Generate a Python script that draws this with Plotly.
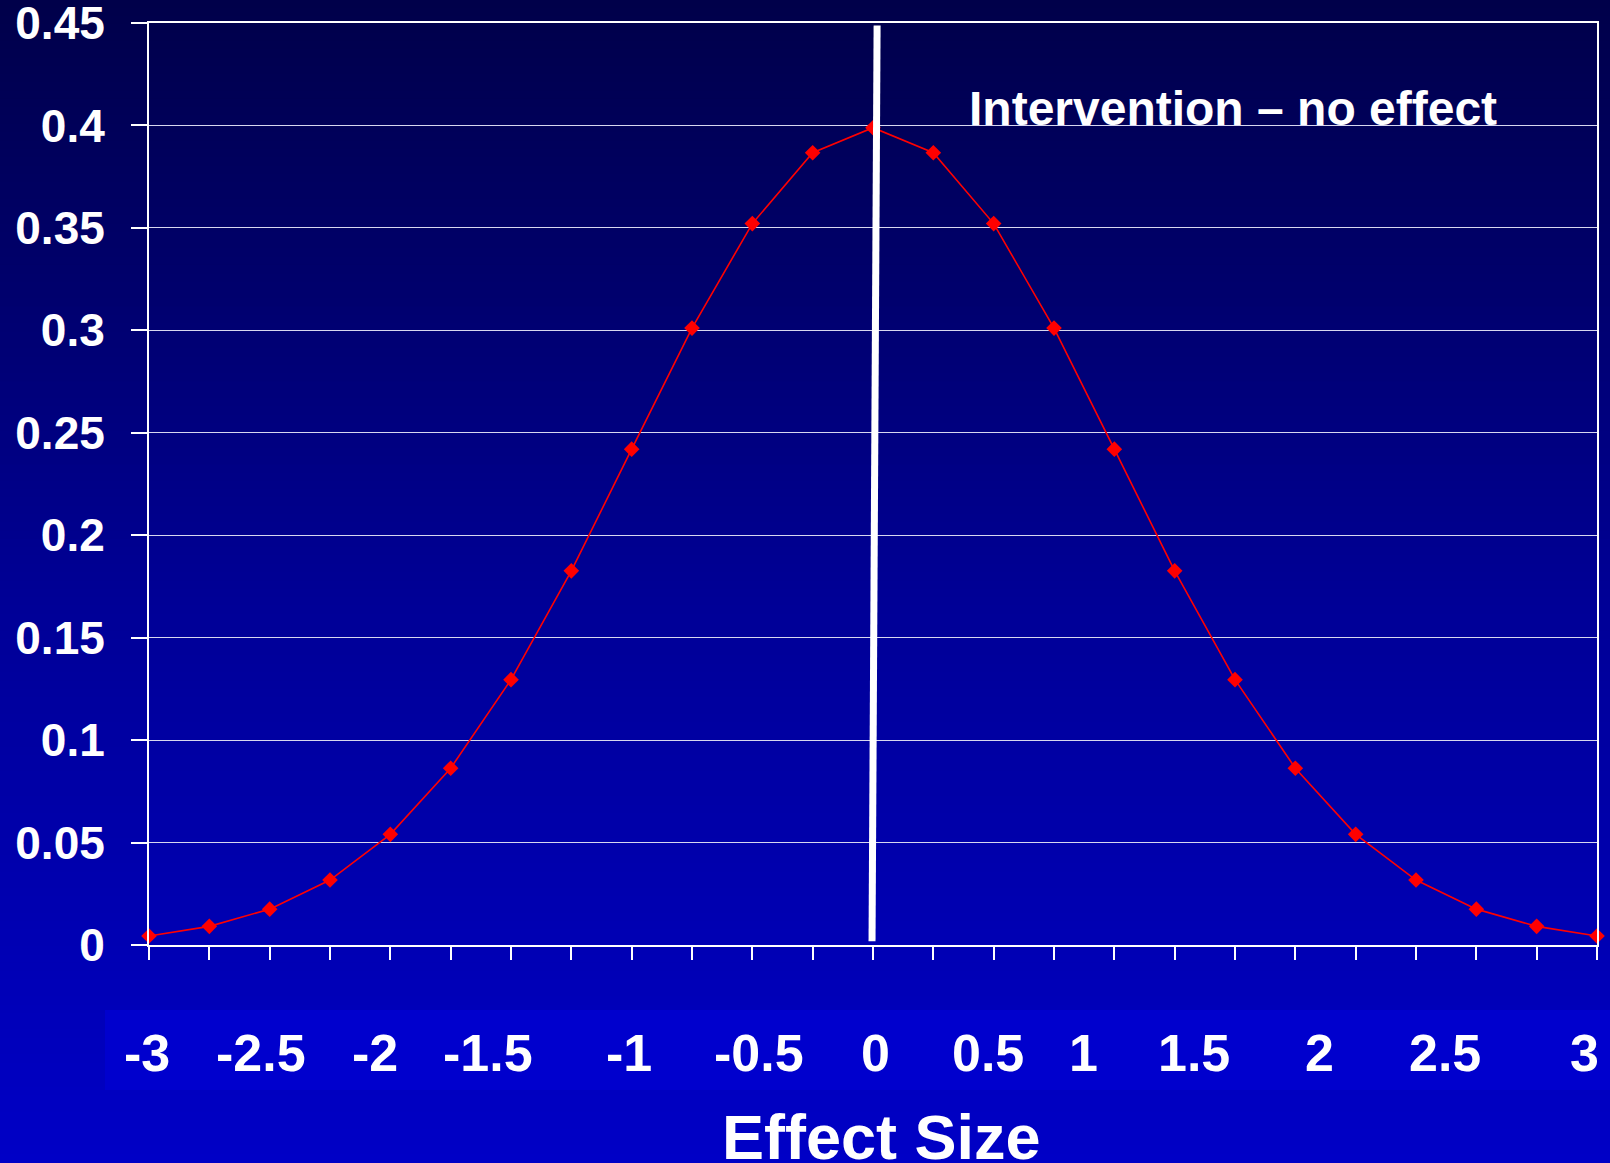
import plotly.graph_objects as go

# ---- data ----
effect_size = [-3, -2.75, -2.5, -2.25, -2, -1.75, -1.5, -1.25, -1, -0.75, -0.5, -0.25,
               0, 0.25, 0.5, 0.75, 1, 1.25, 1.5, 1.75, 2, 2.25, 2.5, 2.75, 3]
density = [0.0044, 0.0091, 0.0175, 0.0317, 0.0540, 0.0863, 0.1295, 0.1826, 0.2420,
           0.3011, 0.3521, 0.3867, 0.3989, 0.3867, 0.3521, 0.3011, 0.2420, 0.1826,
           0.1295, 0.0863, 0.0540, 0.0317, 0.0175, 0.0091, 0.0044]

y_tick_vals = [0, 0.05, 0.1, 0.15, 0.2, 0.25, 0.3, 0.35, 0.4, 0.45]
y_tick_text = ["0", "0.05", "0.1", "0.15", "0.2", "0.25", "0.3", "0.35", "0.4", "0.45"]

x_label_text = ["-3", "-2.5", "-2", "-1.5", "-1", "-0.5", "0", "0.5", "1", "1.5", "2", "2.5", "3"]
x_label_pos = [-3.01, -2.537, -2.064, -1.596, -1.009, -0.473, 0.012, 0.476, 0.872,
               1.331, 1.850, 2.370, 2.949]

no_effect_line_x = [0.017, -0.004]
no_effect_line_y = [0.4488, 0.0018]

# ---- layout geometry ----
W, H = 1610, 1163
L, R, T, B = 149, 13, 23, 218
PW, PH = W - L - R, H - T - B
X_MIN, X_MAX = -3, 3

FONT = "Liberation Sans, Arial, sans-serif"


def px_to_paper_y(py):
    return (H - B - py) / PH


def px_to_paper_x(px):
    return (px - L) / PW


def data_to_paper_x(v):
    return (v - X_MIN) / (X_MAX - X_MIN)


fig = go.Figure()

fig.add_trace(go.Scatter(
    x=effect_size, y=density, mode="lines+markers",
    line=dict(color="#FF0000", width=1.6),
    marker=dict(symbol="diamond", size=12, color="#FF0000"),
    cliponaxis=False, showlegend=False, hoverinfo="skip",
))

shapes = []
# vertical gradient background as stacked strips
stops = [(0, (0, 0, 74)), (300, (0, 0, 110)), (600, (0, 0, 150)), (1163, (0, 0, 198))]


def grad(py):
    for (y0, c0), (y1, c1) in zip(stops[:-1], stops[1:]):
        if y0 <= py <= y1:
            t = (py - y0) / (y1 - y0)
            return tuple(round(a + (b - a) * t) for a, b in zip(c0, c1))
    return stops[-1][1]


N = 140
for i in range(N):
    y0 = H * i / N - 1
    y1 = H * (i + 1) / N + 1
    r, g, b = grad((y0 + y1) / 2)
    shapes.append(dict(
        type="rect", xref="paper", yref="paper", layer="below",
        x0=px_to_paper_x(-2), x1=px_to_paper_x(W + 2),
        y0=px_to_paper_y(y1), y1=px_to_paper_y(y0),
        line=dict(width=0), fillcolor=f"rgb({r},{g},{b})",
    ))

# lighter band behind the x labels
shapes.append(dict(
    type="rect", xref="paper", yref="paper", layer="below",
    x0=px_to_paper_x(105), x1=px_to_paper_x(W + 2),
    y0=px_to_paper_y(1090), y1=px_to_paper_y(1010),
    line=dict(width=0), fillcolor="rgb(0,0,205)",
))

# the "no effect" white line
shapes.append(dict(
    type="line", xref="x", yref="y", layer="above",
    x0=no_effect_line_x[0], y0=no_effect_line_y[0],
    x1=no_effect_line_x[1], y1=no_effect_line_y[1],
    line=dict(color="white", width=7),
))

annotations = []
for txt, pos in zip(x_label_text, x_label_pos):
    annotations.append(dict(
        x=data_to_paper_x(pos), y=px_to_paper_y(1053), xref="paper", yref="paper",
        text=txt, showarrow=False, xanchor="center", yanchor="middle",
        font=dict(family=FONT, size=52, color="white", weight="bold"),
    ))

annotations.append(dict(
    x=px_to_paper_x(881), y=px_to_paper_y(1137), xref="paper", yref="paper",
    text="Effect Size", showarrow=False, xanchor="center", yanchor="middle",
    font=dict(family=FONT, size=63, color="white", weight="bold"),
))

annotations.append(dict(
    x=px_to_paper_x(967), y=px_to_paper_y(108), xref="paper", yref="paper",
    text="Intervention – no effect", showarrow=False, xanchor="left", yanchor="middle",
    font=dict(family=FONT, size=48, color="white", weight="bold"),
))

fig.update_layout(
    width=W, height=H,
    margin=dict(l=L, r=R, t=T, b=B, pad=0, autoexpand=False),
    paper_bgcolor="rgb(0,0,120)",
    plot_bgcolor="rgba(0,0,0,0)",
    shapes=shapes, annotations=annotations,
    showlegend=False,
    xaxis=dict(
        range=[X_MIN, X_MAX], tickvals=effect_size, showticklabels=False,
        ticks="outside", ticklen=13, tickwidth=1.5, tickcolor="white",
        showgrid=False, zeroline=False, automargin=False,
        showline=True, linecolor="white", linewidth=2, mirror=True,
    ),
    yaxis=dict(
        range=[0, 0.45], tickvals=y_tick_vals, ticktext=y_tick_text,
        ticks="outside", ticklen=16, tickwidth=1.5, tickcolor="white",
        ticklabelstandoff=17, ticklabeloverflow="allow", automargin=False,
        tickfont=dict(family=FONT, size=46, color="white", weight="bold"),
        showgrid=True, gridcolor="rgb(215,215,240)", gridwidth=1.3,
        zeroline=False,
        showline=True, linecolor="white", linewidth=2, mirror=True,
    ),
)

fig.write_html(
    "out.html",
    config={"displayModeBar": False},
    post_script="document.body.style.margin='0';document.body.style.overflow='hidden';",
)
